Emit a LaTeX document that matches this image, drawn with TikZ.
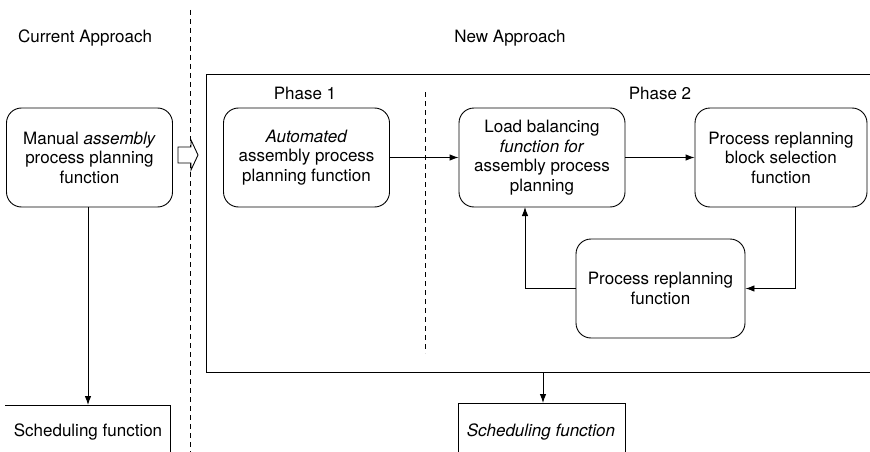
\documentclass[tikz,border=0pt]{standalone}
\usepackage{fontspec}
\setmainfont{TeX Gyre Heros}
\usetikzlibrary{arrows.meta}
\begin{document}
\begin{tikzpicture}[x=1pt,y=-1pt,
  fbox/.style={draw, line width=0.9pt, rounded corners=15pt, minimum width=166pt, minimum height=99pt, align=center, inner sep=0pt, font=\fontsize{17}{19.5}\selectfont},
  lbl/.style={inner sep=0pt, font=\fontsize{17}{19.5}\selectfont},
  arr/.style={-{Latex[length=9pt,width=6.5pt]}, line width=0.9pt},
  plain/.style={line width=0.9pt},
  divider/.style={line width=0.8pt, dash pattern=on 5pt off 4pt}]
\useasboundingbox (0,0) rectangle (870,452);
% headings
\node[lbl] (cur) at (85,38) {Current Approach};
\node[lbl] (new) at (510,38) {New Approach};
\node[lbl] (ph1) at (305,93) {Phase 1};
\node[lbl] (ph2) at (660,93) {Phase 2};
% dividers
\draw[divider] (190,10) -- (190,452);
\draw[divider] (425,92) -- (425,353);
% frame
\coordinate (ftr) at (870,75);
\coordinate (ftl) at (206,75);
\coordinate (fbl) at (206,372);
\coordinate (fbr) at (870,372);
\draw[line width=1pt] (ftr) -- (ftl) -- (fbl) -- (fbr);
% boxes
\node[fbox] (manual) at (89.5,157.5) {Manual \textit{assembly}\\process planning\\function};
\node[fbox] (auto) at (306.5,157.5) {\textit{Automated}\\assembly process\\planning function};
\node[fbox] (lb) at (542,157.5) {Load balancing\\\textit{function for}\\assembly process\\planning};
\node[fbox, minimum width=172pt] (bs) at (781,157.5) {Process replanning\\block selection\\function};
\node[fbox, minimum width=169pt] (rp) at (660.5,288.5) {Process replanning\\function};
% scheduling boxes
\node[lbl] (sl) at (88,432) {Scheduling function};
\node[lbl] (sc) at (541,432) {\textit{Scheduling function}};
\coordinate (slnw) at (5,405);
\coordinate (slne) at (170,405);
\coordinate (slse) at (170,452);
\draw[plain] (slnw) -- (slne) -- (slse);
\coordinate (scsw) at (458,452);
\coordinate (scnw) at (458,403);
\coordinate (scne) at (625,403);
\coordinate (scse) at (625,452);
\draw[plain] (scsw) -- (scnw) -- (scne) -- (scse);
% connectors
\coordinate (sltop) at (88,405);
\draw[arr] (manual.south -| sltop) -- (sltop);
\draw[arr] (auto.east) -- (lb.west);
\draw[arr] (lb.east) -- (bs.west);
\coordinate (bsout) at (795,207);
\draw[arr] (bsout) |- (rp.east);
\coordinate (lbin) at (525,207);
\draw[arr] (rp.west) -| (lbin);
\coordinate (fbot) at (543,372);
\coordinate (sctop) at (543,403);
\draw[arr] (fbot) -- (sctop);
% block arrow
\draw[line width=0.9pt, fill=white] (178,147) -- (191,147) -- (191,140) -- (198,155) -- (191,170) -- (191,163) -- (178,163) -- cycle;
\end{tikzpicture}
\end{document}
